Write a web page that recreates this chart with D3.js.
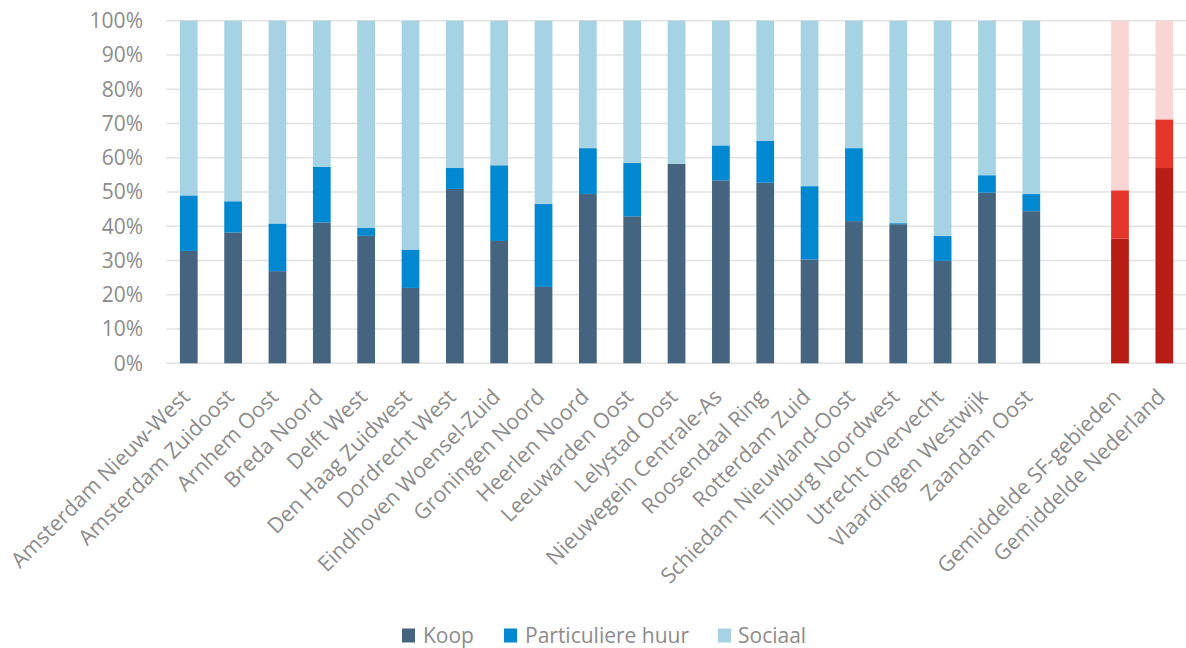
<!DOCTYPE html>
<html>
<head>
<meta charset="utf-8">
<script src="https://cdn.jsdelivr.net/npm/d3@7/dist/d3.min.js"></script>
<style>
  html, body { margin: 0; padding: 0; background: #ffffff; }
  svg { display: block; }
  text { font-family: "Open Sans", "Noto Sans", sans-serif; fill: #8c8c8c; }
</style>
</head>
<body>
<svg id="chart" width="1186" height="648"></svg>
<script>
// ---- data ----
const categories = [
  "Amsterdam Nieuw-West", "Amsterdam Zuidoost", "Arnhem Oost", "Breda Noord", "Delft West",
  "Den Haag Zuidwest", "Dordrecht West", "Eindhoven Woensel-Zuid", "Groningen Noord", "Heerlen Noord",
  "Leeuwarden Oost", "Lelystad Oost", "Nieuwegein Centrale-As", "Roosendaal Ring", "Rotterdam Zuid",
  "Schiedam Nieuwland-Oost", "Tilburg Noordwest", "Utrecht Overvecht", "Vlaardingen Westwijk", "Zaandam Oost",
  " ",
  "Gemiddelde SF-gebieden", "Gemiddelde Nederland"
];
const averageCategories = ["Gemiddelde SF-gebieden", "Gemiddelde Nederland"];
const seriesNames = ["Koop", "Particuliere huur", "Sociaal"];
// shares in percent (null = empty slot)
const koop = [32.8, 38.2, 26.9, 41.1, 37.2, 22.0, 50.9, 35.7, 22.3, 49.4,
              42.9, 58.2, 53.4, 52.7, 30.3, 41.5, 40.6, 29.9, 49.8, 44.4,
              null, 36.4, 57.0];
const particuliereHuur = [16.2, 9.1, 13.9, 16.3, 2.4, 11.2, 6.1, 22.1, 24.2, 13.4,
              15.6, 0.0, 10.2, 12.3, 21.4, 21.3, 0.3, 7.3, 5.1, 5.0,
              null, 14.1, 14.2];
const sociaal = [51.0, 52.7, 59.2, 42.6, 60.4, 66.8, 43.0, 42.2, 53.5, 37.2,
              41.5, 41.8, 36.4, 35.0, 48.3, 37.2, 59.1, 62.8, 45.1, 50.6,
              null, 49.5, 28.8];
const yTicks = [0, 10, 20, 30, 40, 50, 60, 70, 80, 90, 100];
const blueColors = ["#44647f", "#0088d1", "#a6d3e3"];
const redColors = ["#b71c15", "#e4352b", "#f9d6d3"];

// ---- chart ----
const svg = d3.select("#chart");
const x = d3.scaleBand().domain(categories).range([166.6, 1186.5]).paddingInner(0.6).paddingOuter(0.3);
const y = d3.scaleLinear().domain([0, 100]).range([363.3, 20.7]);

// gridlines
svg.append("g").selectAll("line").data(yTicks).join("line")
  .attr("x1", 166.6).attr("x2", 1186)
  .attr("y1", d => y(d)).attr("y2", d => y(d))
  .attr("stroke", "#e2e2e2").attr("stroke-width", 1.5);

// y tick labels
svg.append("g").selectAll("text").data(yTicks).join("text")
  .attr("x", 143).attr("y", d => y(d)).attr("dy", "0.35em")
  .attr("text-anchor", "end").style("font-size", "21px")
  .text(d => d + "%");

// stacked data
const rows = categories.map((c, i) => ({
  cat: c, "Koop": koop[i], "Particuliere huur": particuliereHuur[i], "Sociaal": sociaal[i]
})).filter(r => r.Koop !== null);
const stack = d3.stack().keys(seriesNames);
const stacked = stack(rows);

stacked.forEach((layer, si) => {
  svg.append("g").selectAll("rect").data(layer).join("rect")
    .attr("x", d => x(d.data.cat))
    .attr("width", x.bandwidth())
    .attr("y", d => y(d[1]))
    .attr("height", d => Math.max(0, y(d[0]) - y(d[1])))
    .attr("fill", d => averageCategories.includes(d.data.cat) ? redColors[si] : blueColors[si]);
});

// x labels
svg.append("g").selectAll("text").data(categories).join("text")
  .attr("transform", d => `translate(${x(d) + x.bandwidth() / 2 - 3},${393}) rotate(-45)`)
  .attr("text-anchor", "end").attr("dy", "0.35em")
  .style("font-size", "21.4px")
  .text(d => d.trim());

// legend
const legendItems = [
  { name: "Koop", sx: 402, tx: 423 },
  { name: "Particuliere huur", sx: 504, tx: 525 },
  { name: "Sociaal", sx: 718, tx: 738 }
];
const lg = svg.append("g");
legendItems.forEach((it, i) => {
  lg.append("rect").attr("x", it.sx).attr("y", 628.5).attr("width", 13).attr("height", 14)
    .attr("fill", blueColors[i]);
  lg.append("text").attr("x", it.tx).attr("y", 636).attr("dy", "0.35em")
    .style("font-size", "21px").text(it.name);
});
</script>
</body>
</html>
